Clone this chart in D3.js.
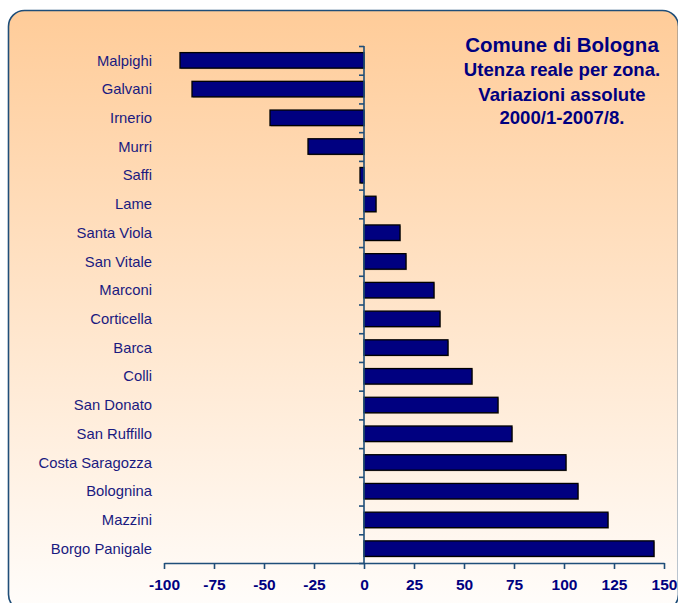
<!DOCTYPE html>
<html>
<head>
<meta charset="utf-8">
<script src="https://cdn.jsdelivr.net/npm/d3@7"></script>
<style>
body { margin: 0; background: #fff; }
text { font-family: "Liberation Sans", Arial, sans-serif; }
</style>
</head>
<body>
<div id="vis"></div>
<script>
// data
var zones = ["Malpighi", "Galvani", "Irnerio", "Murri", "Saffi", "Lame", "Santa Viola",
  "San Vitale", "Marconi", "Corticella", "Barca", "Colli", "San Donato", "San Ruffillo",
  "Costa Saragozza", "Bolognina", "Mazzini", "Borgo Panigale"];
var change = [-92, -86, -47, -28, -2, 6, 18, 21, 35, 38, 42, 54, 67, 74, 101, 107, 122, 145];
var xTicks = [-100, -75, -50, -25, 0, 25, 50, 75, 100, 125, 150];
var titleLines = ["Comune di Bologna", "Utenza reale per zona.", "Variazioni assolute", "2000/1-2007/8."];

var w = 678, h = 603;
var pLeft = 164, pRight = 664, pTop = 46, pBottom = 563;

var svg = d3.select("#vis").append("svg")
  .attr("width", w)
  .attr("height", h);

// background panel with gradient
var grad = svg.append("defs").append("linearGradient")
  .attr("id", "bg").attr("x1", 0).attr("y1", 0).attr("x2", 0).attr("y2", 1);
grad.append("stop").attr("offset", "0%").attr("stop-color", "#FFCC99");
grad.append("stop").attr("offset", "100%").attr("stop-color", "#FFFDFB");

svg.append("rect")
  .attr("x", 8.5).attr("y", 10.5)
  .attr("width", 670).attr("height", 600)
  .attr("rx", 16)
  .attr("fill", "url(#bg)")
  .attr("stroke", "#1F4E79")
  .attr("stroke-width", 1.6);

// scales
var x = d3.scaleLinear().domain([-100, 150]).range([pLeft, pRight]);
var y = d3.scaleBand().domain(zones).range([pTop, pBottom])
  .paddingInner(0.46).paddingOuter(0.23);
var yEdge = d3.scaleLinear().domain([0, zones.length]).range([pTop, pBottom]);

// bars (shadow + bar)
var bars = svg.append("g");
bars.selectAll("rect.shadow")
  .data(change)
  .enter().append("rect")
  .attr("class", "shadow")
  .attr("x", d => Math.min(x(d), x(0)) + 1)
  .attr("y", (d, i) => y(zones[i]) + 1)
  .attr("width", d => Math.abs(x(d) - x(0)))
  .attr("height", y.bandwidth())
  .attr("fill", "#8a7a6a")
  .attr("opacity", 0.6);

bars.selectAll("rect.bar")
  .data(change)
  .enter().append("rect")
  .attr("class", "bar")
  .attr("x", d => Math.min(x(d), x(0)))
  .attr("y", (d, i) => y(zones[i]))
  .attr("width", d => Math.abs(x(d) - x(0)))
  .attr("height", y.bandwidth())
  .attr("fill", "#000080")
  .attr("stroke", "#000")
  .attr("stroke-width", 1.3);

// category labels
svg.append("g").selectAll("text")
  .data(zones)
  .enter().append("text")
  .attr("x", 152)
  .attr("y", d => y(d) + y.bandwidth() / 2)
  .attr("dy", "0.35em")
  .attr("text-anchor", "end")
  .attr("font-size", 14.8)
  .attr("fill", "#1a1a80")
  .text(d => d);

// y axis at zero
var yAxis = svg.append("g")
  .attr("transform", `translate(${x(0)},0)`)
  .call(d3.axisLeft(yEdge).tickValues(d3.range(zones.length + 1)).tickSize(5).tickFormat(""));
yAxis.select(".domain").attr("d", `M0,${pTop}V${pBottom}`);

// x axis
var xAxis = svg.append("g")
  .attr("transform", `translate(0,${pBottom})`)
  .call(d3.axisBottom(x).tickValues(xTicks).tickSize(6).tickSizeOuter(0)
    .tickPadding(10).tickFormat(d => String(d)));
xAxis.selectAll("text")
  .attr("font-size", 15.5)
  .attr("font-weight", "bold")
  .attr("fill", "#000080")
  .attr("font-family", "Liberation Sans, Arial, sans-serif");

svg.selectAll(".domain, .tick line")
  .attr("stroke", "#1F4E79")
  .attr("stroke-width", 1.6);

// title
var tSize = [20.5, 18.6, 18.6, 18.6];
var tY = [52, 76, 101, 124];
svg.append("g").selectAll("text")
  .data(titleLines)
  .enter().append("text")
  .attr("x", 562)
  .attr("y", (d, i) => tY[i])
  .attr("text-anchor", "middle")
  .attr("font-size", (d, i) => tSize[i])
  .attr("font-weight", "bold")
  .attr("fill", "#000080")
  .text(d => d);
</script>
</body>
</html>
